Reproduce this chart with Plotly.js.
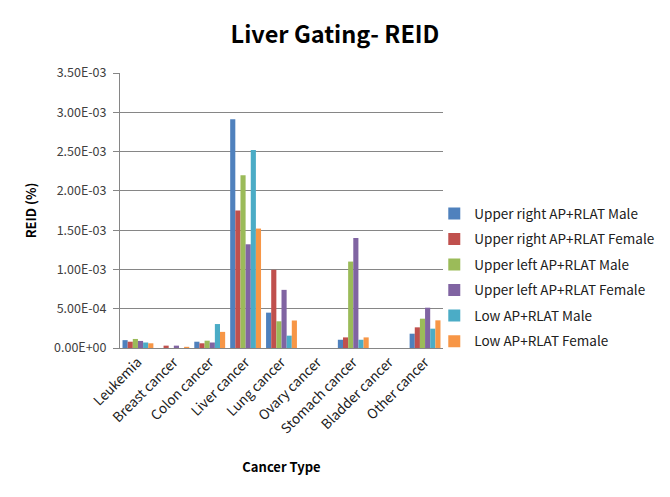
<!DOCTYPE html>
<html><head><meta charset="utf-8">
<script src="https://cdn.plot.ly/plotly-3.0.1.min.js"></script>
<style>html,body{margin:0;padding:0;background:#fff}#chart{width:670px;height:497px}</style>
</head><body><div id="chart"></div>
<script>
const categories = ["Leukemia","Breast cancer","Colon cancer","Liver cancer","Lung cancer","Ovary cancer","Stomach cancer","Bladder cancer","Other cancer"];
const seriesNames = ["Upper right AP+RLAT Male","Upper right AP+RLAT Female","Upper left AP+RLAT Male","Upper left AP+RLAT Female","Low AP+RLAT Male","Low AP+RLAT Female"];
const upperRightMale   = [1.0e-4, 0,      0.8e-4, 2.91e-3, 4.5e-4,  0, 1.05e-4, 0, 1.82e-4];
const upperRightFemale = [0.8e-4, 3e-5,   0.6e-4, 1.75e-3, 9.95e-4, 0, 1.35e-4, 0, 2.63e-4];
const upperLeftMale    = [1.15e-4,0,      0.93e-4,2.2e-3,  3.4e-4,  0, 1.1e-3,  0, 3.73e-4];
const upperLeftFemale  = [0.9e-4, 3e-5,   0.7e-4, 1.32e-3, 7.4e-4,  0, 1.4e-3,  0, 5.13e-4];
const lowMale          = [0.7e-4, 0,      3.05e-4,2.52e-3, 1.57e-4, 0, 1.05e-4, 0, 2.46e-4];
const lowFemale        = [0.6e-4, 1.5e-5, 2.05e-4,1.52e-3, 3.5e-4,  0, 1.35e-4, 0, 3.52e-4];
const yTickVals = [0, 5e-4, 1e-3, 1.5e-3, 2e-3, 2.5e-3, 3e-3, 3.5e-3];
const yTickText = ["0.00E+00","5.00E-04","1.00E-03","1.50E-03","2.00E-03","2.50E-03","3.00E-03","3.50E-03"];
const colors = ["#4F81BD","#C0504D","#9BBB59","#8064A2","#4BACC6","#F79646"];
const allSeries = [upperRightMale, upperRightFemale, upperLeftMale, upperLeftFemale, lowMale, lowFemale];

const font = "'Noto Sans CJK KR', 'Open Sans', sans-serif";
const traces = allSeries.map((vals, i) => ({
  type: 'bar', x: categories, y: vals, name: seriesNames[i],
  marker: {color: colors[i]}, legendgroup: 'g' + i
}));

const layout = {
  width: 670, height: 497,
  margin: {l: 120, r: 226, t: 73, b: 149},
  paper_bgcolor: '#fff', plot_bgcolor: '#fff',
  font: {family: font, color: '#404040', size: 12},
  title: {text: '<b>Liver Gating- REID</b>', font: {family: font, size: 23.5, color: '#000'}, x: 0.5, xanchor: 'center', y: 0.93, yanchor: 'middle'},
  barmode: 'group', bargap: 0.14, bargroupgap: 0,
  xaxis: {
    tickangle: -45, tickfont: {size: 13.5, color: '#202020'},
    showline: true, linecolor: '#868686', linewidth: 1,
    ticks: '', showgrid: false,
    title: {text: '<b>Cancer Type</b>', font: {family: font, size: 13, color: '#000'}, standoff: 26}
  },
  yaxis: {
    range: [0, 3.5e-3], tickvals: yTickVals, ticktext: yTickText,
    showgrid: true, gridcolor: '#868686', gridwidth: 1,
    showline: true, linecolor: '#868686', linewidth: 1,
    ticks: 'outside', ticklen: 6, tickcolor: '#868686', ticklabelstandoff: 4,
    tickfont: {size: 12.5, color: '#404040'}, zeroline: false,
    title: {text: '<b>REID (%)</b>', font: {family: font, size: 13, color: '#000'}, standoff: 14}
  },
  legend: {x: 0.97, xanchor: 'left', y: 0.545, yanchor: 'top', font: {size: 13.5, color: '#202020'},
    traceorder: 'grouped', tracegroupgap: 5, itemwidth: 30, bgcolor: 'rgba(0,0,0,0)'},
  showlegend: true
};
Plotly.newPlot('chart', traces, layout, {displayModeBar: false, staticPlot: true});
</script></body></html>
